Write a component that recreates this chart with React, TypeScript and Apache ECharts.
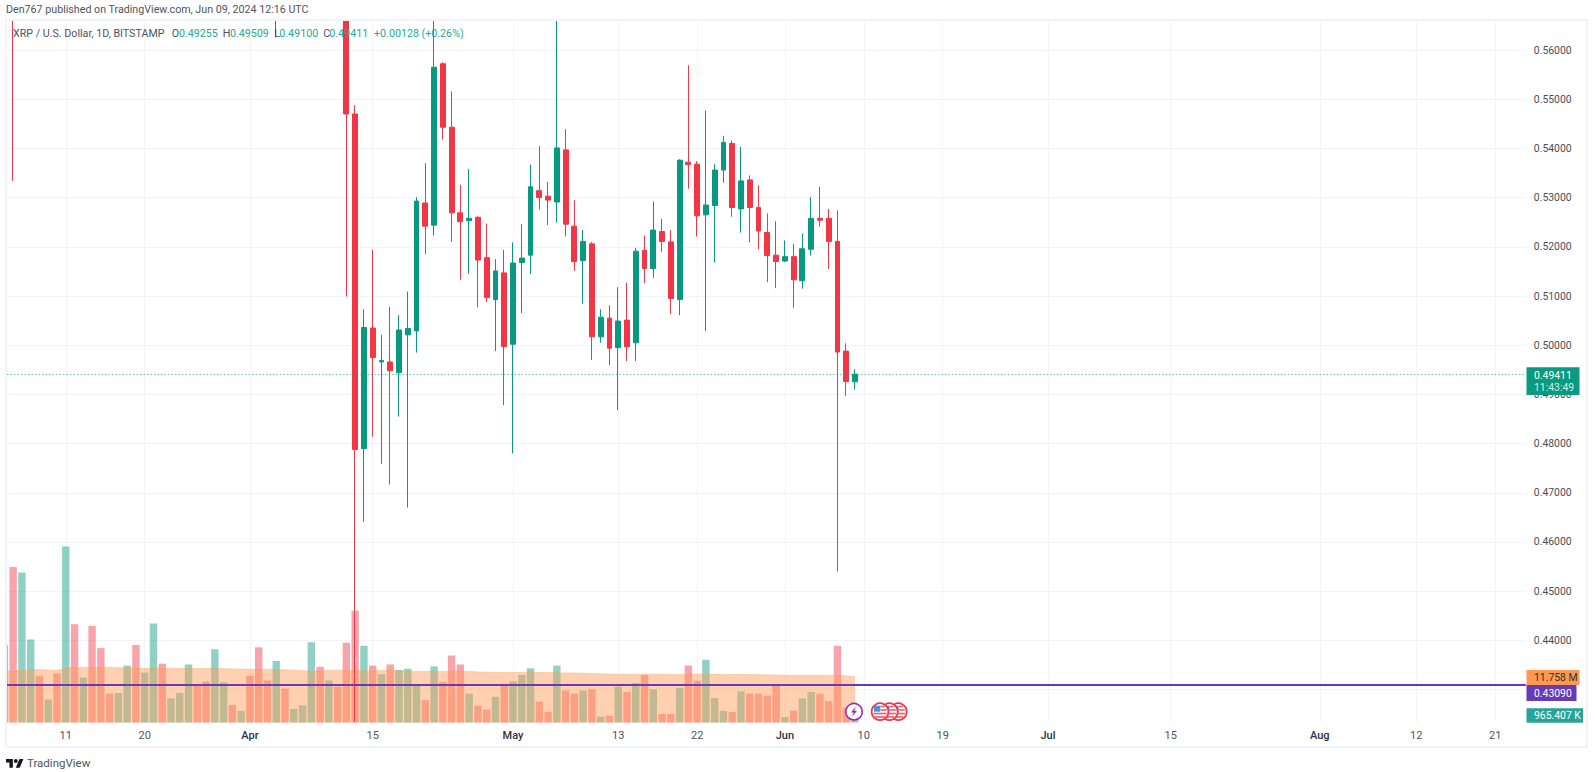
import React, { useEffect, useRef } from "react";
import * as echarts from "echarts";

const monthSpans: [string, number, number][] = [["Mar", 4, 31], ["Apr", 1, 30], ["May", 1, 31], ["Jun", 1, 30], ["Jul", 1, 31], ["Aug", 1, 24]];
const categories: string[] = [];
monthSpans.forEach(([m, a, b]) => { for (let d = a; d <= b; d++) categories.push(m + " " + d); });

const tickDates = ["Mar 11", "Mar 20", "Apr 1", "Apr 15", "May 1", "May 13", "May 22", "Jun 1", "Jun 10", "Jun 19", "Jul 1", "Jul 15", "Aug 1", "Aug 12", "Aug 21"];
const tickTexts = ["11", "20", "Apr", "15", "May", "13", "22", "Jun", "10", "19", "Jul", "15", "Aug", "12", "21"];
const priceGrid = [0.43, 0.44, 0.45, 0.46, 0.47, 0.48, 0.49, 0.5, 0.51, 0.52, 0.53, 0.54, 0.55, 0.56];
const priceLabels = [0.44, 0.45, 0.46, 0.47, 0.48, 0.49, 0.5, 0.51, 0.52, 0.53, 0.54, 0.55, 0.56];

// Mar 4 .. Jun 9; Mar 4 .. Apr 12 sit mostly above the visible range.
const opens = [
  0.629, 0.651, 0.61, 0.628, 0.648, 0.634, 0.642, 0.618, 0.702, 0.68, 0.694, 0.655, 0.612, 0.604, 0.612, 0.62, 0.592, 0.61, 0.664, 0.622,
  0.63, 0.64, 0.652, 0.644, 0.62, 0.628, 0.632, 0.626, 0.63, 0.612, 0.588, 0.58, 0.59, 0.582, 0.586, 0.59, 0.618, 0.602, 0.614,
  0.59, 0.547, 0.479, 0.5035, 0.4966, 0.4966, 0.4944, 0.5021, 0.5029, 0.5289, 0.5244, 0.5572, 0.5443, 0.5269, 0.5253, 0.526, 0.5178, 0.5093,
  0.5147, 0.5002, 0.5168, 0.5183, 0.5314, 0.5303, 0.5291, 0.5397, 0.5242, 0.5172, 0.5206, 0.5017, 0.5055, 0.4995, 0.5051, 0.5005, 0.5193, 0.5156,
  0.5231, 0.521, 0.5093, 0.5372, 0.5368, 0.5265, 0.5284, 0.5356, 0.541, 0.5277, 0.5336, 0.528, 0.5229, 0.5183, 0.5171, 0.518, 0.5131, 0.5195,
  0.5258, 0.5258, 0.5211, 0.4988, 0.49255,
];
const closes = [
  0.651, 0.61, 0.628, 0.648, 0.634, 0.642, 0.618, 0.702, 0.68, 0.694, 0.655, 0.612, 0.604, 0.612, 0.62, 0.592, 0.61, 0.664, 0.622, 0.63,
  0.64, 0.652, 0.644, 0.62, 0.628, 0.632, 0.626, 0.63, 0.612, 0.588, 0.58, 0.59, 0.582, 0.586, 0.59, 0.618, 0.602, 0.614, 0.59,
  0.547, 0.4788, 0.5036, 0.4975, 0.4969, 0.4948, 0.5031, 0.5034, 0.5293, 0.5242, 0.5565, 0.5443, 0.5269, 0.5251, 0.5258, 0.5173, 0.5097, 0.5151,
  0.4997, 0.5167, 0.5177, 0.5322, 0.53, 0.5295, 0.5401, 0.5246, 0.517, 0.5211, 0.5017, 0.5057, 0.4994, 0.5049, 0.4997, 0.5191, 0.5156, 0.5234,
  0.5211, 0.5095, 0.5376, 0.5367, 0.5263, 0.5285, 0.5356, 0.5412, 0.528, 0.5334, 0.528, 0.5232, 0.5182, 0.517, 0.518, 0.5133, 0.5196, 0.5258,
  0.5254, 0.5211, 0.4986, 0.4926, 0.49411,
];
const lows = [
  0.622, 0.5334, 0.601, 0.62, 0.626, 0.628, 0.61, 0.612, 0.672, 0.676, 0.648, 0.6, 0.598, 0.6, 0.606, 0.58, 0.586, 0.604, 0.612, 0.616,
  0.624, 0.634, 0.638, 0.612, 0.604, 0.622, 0.62, 0.62, 0.6, 0.578, 0.572, 0.5626, 0.572, 0.576, 0.58, 0.584, 0.59, 0.596, 0.582,
  0.5099, 0.4234, 0.4641, 0.4814, 0.4759, 0.4717, 0.4855, 0.467, 0.4985, 0.5185, 0.5223, 0.5418, 0.521, 0.5133, 0.5145, 0.5077, 0.5088, 0.4988,
  0.4878, 0.478, 0.5065, 0.5145, 0.5276, 0.5244, 0.5249, 0.5221, 0.5151, 0.5084, 0.497, 0.5005, 0.4959, 0.4868, 0.4968, 0.4968, 0.5126, 0.5137,
  0.5189, 0.5063, 0.5061, 0.5318, 0.5221, 0.5029, 0.5168, 0.533, 0.5261, 0.5229, 0.5209, 0.5195, 0.5128, 0.5116, 0.5169, 0.5076, 0.5115, 0.5182,
  0.5241, 0.5155, 0.454, 0.4897, 0.491,
];
const highs = [
  0.662, 0.66, 0.636, 0.656, 0.652, 0.648, 0.65, 0.72, 0.744, 0.7, 0.7, 0.664, 0.622, 0.618, 0.628, 0.632, 0.634, 0.668, 0.668, 0.636,
  0.648, 0.656, 0.658, 0.648, 0.632, 0.638, 0.636, 0.634, 0.634, 0.618, 0.596, 0.6, 0.594, 0.592, 0.596, 0.624, 0.622, 0.618, 0.62,
  0.598, 0.5488, 0.5073, 0.5194, 0.5021, 0.5078, 0.5061, 0.5109, 0.5301, 0.537, 0.572, 0.5575, 0.5516, 0.5326, 0.5358, 0.5262, 0.5247, 0.5175,
  0.5194, 0.5209, 0.5246, 0.5367, 0.5405, 0.5332, 0.572, 0.5439, 0.5295, 0.5234, 0.521, 0.5073, 0.5081, 0.5118, 0.5127, 0.5198, 0.5223, 0.5292,
  0.5257, 0.5234, 0.5378, 0.5569, 0.5374, 0.5477, 0.5368, 0.5425, 0.5416, 0.5403, 0.5345, 0.5325, 0.5268, 0.5252, 0.5213, 0.5206, 0.5227, 0.5301,
  0.5322, 0.5277, 0.5274, 0.5004, 0.49509,
];
const volumes = [
  19.9, 39.9, 38.5, 21.3, 12.0, 5.9, 12.6, 45.2, 25.2, 11.5, 24.8, 19.1, 7.4, 7.6, 14.6, 19.9, 12.8, 25.4, 15.1, 6.2,
  7.6, 14.9, 9.4, 10.5, 18.8, 10.3, 4.5, 3.0, 12.0, 19.3, 10.8, 15.8, 8.7, 3.5, 4.4, 20.6, 14.3, 10.8, 9.2,
  20.5, 28.7, 19.7, 14.6, 12.4, 14.9, 13.5, 13.8, 9.5, 5.7, 14.4, 10.4, 17.2, 14.9, 7.4, 4.3, 3.3, 6.6,
  9.6, 10.5, 12.2, 13.9, 5.3, 2.7, 14.6, 8.2, 7.4, 8.2, 8.5, 1.5, 1.7, 9.2, 7.8, 10.1, 12.2, 8.5,
  2.2, 2.2, 8.9, 14.6, 10.7, 16.1, 6.3, 3.0, 2.7, 8.0, 7.4, 7.4, 6.9, 9.5, 1.4, 3.0, 6.2, 7.8,
  7.4, 5.5, 19.7, 3.8, 0.965,
];
const volumeMA = [
  13.09, 13.22, 13.35, 13.61, 13.61, 13.48, 13.35, 13.99, 14.12, 14.12, 14.12, 14.12, 14.12, 14.04, 13.99, 13.94, 13.91, 13.86, 13.91, 13.86,
  13.86, 13.86, 13.86, 13.86, 13.84, 13.81, 13.76, 13.73, 13.68, 13.68, 13.63, 13.58, 13.53, 13.43, 13.3, 13.17, 13.25, 13.37, 13.43,
  13.4, 13.35, 13.27, 13.27, 13.32, 13.32, 13.25, 13.17, 13.12, 13.09, 13.09, 13.12, 13.17, 13.17, 13.09, 12.99, 12.91, 12.84,
  12.84, 12.84, 12.84, 12.84, 12.84, 12.81, 12.78, 12.73, 12.71, 12.66, 12.58, 12.53, 12.45, 12.4, 12.4, 12.4, 12.4, 12.4,
  12.37, 12.35, 12.35, 12.37, 12.37, 12.4, 12.37, 12.35, 12.32, 12.3, 12.3, 12.27, 12.24, 12.19, 12.14, 12.12, 12.12, 12.12,
  12.12, 12.09, 12.12, 11.96, 11.758,
];

const lastPrice = 0.49411;
const indicatorPrice = 0.4309;
const RED = "#f23645";
const GREEN = "#089981";
const FONT = "Roboto, sans-serif";
const GRAY = "#50535e";
const LEGEND_GREEN = "#22ab94";

const txt = (text: string, x: number, y: number, fill: string, size = 10.7, weight = 400, align = "left") => ({
  type: "text", x, y, z: 120,
  style: { text, fill, font: `${weight} ${size}px ${FONT}`, align, verticalAlign: "middle" },
});
const box = (x: number, y: number, width: number, height: number, fill: string, z = 110) => ({
  type: "rect", z, shape: { x, y, width, height }, style: { fill },
});

export default function App() {
  const ref = useRef<HTMLDivElement>(null);
  useEffect(() => {
    echarts.graphic.registerShape(
      "tvLogo",
      echarts.graphic.extendPath("M14 22H7V11H0V4h14v18zM28 22h-8l7.5-18h8L28 22zM16 8a4 4 0 1 0 8 0a4 4 0 1 0 -8 0z", {}) as any
    );
    const chart = echarts.init(ref.current!, undefined, { renderer: "svg" });
    const flagGroup = (cx: number, cy: number, z: number) => [
      { type: "circle", z, shape: { cx, cy, r: 8.4 }, style: { fill: "#fff", stroke: RED, lineWidth: 1.8 } },
      box(cx - 6.6, cy + 1, 13.2, 1.7, "#f5616c", z + 0.1),
      box(cx - 5, cy + 4.4, 10, 1.7, "#f5616c", z + 0.1),
      box(cx + 0.5, cy - 2.6, 6, 1.7, "#f5616c", z + 0.1),
      box(cx + 0.5, cy - 6, 4, 1.7, "#f5616c", z + 0.1),
      box(cx - 6, cy - 6, 6.3, 6, "#4a8fe8", z + 0.2),
    ];
    chart.setOption({
      animation: false,
      backgroundColor: "#ffffff",
      grid: { left: -1.88, top: 20, width: 1527.72, height: 702.5, containLabel: false },
      xAxis: {
        type: "category",
        data: categories,
        axisLine: { show: false },
        axisTick: { show: false },
        splitLine: {
          show: true,
          alignWithLabel: true,
          interval: (_: number, v: string) => tickDates.includes(v),
          lineStyle: { color: "#f2f4f9", width: 1 },
        },
        axisLabel: {
          show: true,
          interval: (_: number, v: string) => tickDates.includes(v),
          margin: 7,
          hideOverlap: false,
          formatter: (v: string) => {
            const t = tickTexts[tickDates.indexOf(v)];
            return /^[A-Z]/.test(t) ? `{b|${t}}` : `{n|${t}}`;
          },
          rich: {
            n: { color: "#50535e", fontSize: 11, fontFamily: FONT },
            b: { color: "#2e3240", fontSize: 11, fontWeight: 500, fontFamily: FONT },
          },
        },
      },
      yAxis: [
        {
          type: "value",
          position: "right",
          min: 0.42331,
          max: 0.5661,
          axisLine: { show: false },
          axisTick: { show: false, customValues: priceGrid },
          splitLine: { show: true, lineStyle: { color: "#f2f4f9", width: 1 } },
          axisLabel: {
            show: true,
            customValues: priceLabels,
            margin: 8,
            color: "#4a4e5a",
            fontSize: 10.4,
            fontFamily: FONT,
            formatter: (v: number) => v.toFixed(5),
          },
        },
        { type: "value", show: false, min: 0, max: 180.3, splitLine: { show: false } },
      ],
      series: [
        {
          name: "Volume",
          type: "bar",
          yAxisIndex: 1,
          barWidth: 7.4,
          z: 1,
          data: volumes.map((v, i) => ({
            value: v,
            itemStyle: { color: closes[i] >= opens[i] ? "rgba(8,153,129,0.45)" : "rgba(242,54,69,0.45)" },
          })),
        },
        {
          name: "Volume MA",
          type: "line",
          yAxisIndex: 1,
          z: 2,
          showSymbol: false,
          data: volumeMA,
          lineStyle: { color: "rgba(255,152,80,0.35)", width: 1 },
          areaStyle: { color: "rgba(255,152,80,0.45)", opacity: 1 },
        },
        {
          name: "XRP",
          type: "candlestick",
          z: 3,
          barWidth: 5.4,
          itemStyle: { color: GREEN, color0: RED, borderColor: GREEN, borderColor0: RED, borderWidth: 1 },
          data: opens.map((o, i) => [o, closes[i], lows[i], highs[i]]),
          markLine: {
            silent: true,
            symbol: "none",
            precision: 5,
            label: { show: false },
            animation: false,
            data: [
              { yAxis: lastPrice, lineStyle: { color: "rgba(8,153,129,0.6)", type: [1.5, 2], width: 1 } },
              { yAxis: indicatorPrice, lineStyle: { color: "#673ab7", type: "solid", width: 2 } },
            ],
          },
        },
      ],
      graphic: [
        box(0, 0, 1595, 19, "#ffffff", 100),
        box(0, 18, 5.5, 732, "#ffffff", 100),
        { type: "rect", z: 101, shape: { x: 6, y: 20, width: 1581, height: 727 }, style: { fill: "none", stroke: "#f0f3fa", lineWidth: 2 } },
        box(1526.5, 367.3, 53, 27.7, "#0a9a80"),
        txt("0.49411", 1534, 375.5, "#ffffff", 10.4),
        txt("11:43:49", 1534, 387.8, "#cfeee8", 10.4),
        box(1526.5, 670, 53, 15, "#ff9850"),
        txt("11.758 M", 1534, 677.5, "#33302c", 10.4),
        box(1526.5, 685, 50, 16, "#673ab7"),
        txt("0.43090", 1534, 693, "#ffffff", 10.4),
        box(1526.5, 708.3, 56.5, 14.4, "#26a69a"),
        txt("965.407 K", 1534, 715.5, "#ffffff", 10.4),
        txt("Den767 published on TradingView.com, Jun 09, 2024 12:16 UTC", 6, 9.5, GRAY),
        txt("XRP / U.S. Dollar, 1D, BITSTAMP", 13, 33, GRAY),
        txt("O", 171.7, 33, GRAY),
        txt("0.49255", 179, 33, LEGEND_GREEN),
        txt("H", 222.7, 33, GRAY),
        txt("0.49509", 230, 33, LEGEND_GREEN),
        txt("L", 274.3, 33, GRAY),
        txt("0.49100", 279.3, 33, LEGEND_GREEN),
        txt("C", 323.3, 33, GRAY),
        txt("0.49411", 329.3, 33, LEGEND_GREEN),
        txt("+0.00128 (+0.26%)", 374, 33, LEGEND_GREEN),
        { type: "tvLogo", x: 6, y: 757, scaleX: 0.49, scaleY: 0.49, z: 120, style: { fill: "#131722" } },
        txt("TradingView", 27, 763, GRAY, 11.5),
        { type: "circle", z: 105, shape: { cx: 854, cy: 711.7, r: 8.2 }, style: { fill: "#fff", stroke: "#9c27b0", lineWidth: 1.6 } },
        {
          type: "polygon", z: 106,
          shape: { points: [[856, 706.5], [851, 712.5], [853.8, 712.5], [852, 717], [857, 710.8], [854.2, 710.8]] },
          style: { fill: "#9c27b0" },
        },
        ...flagGroup(898.3, 711.7, 105),
        ...flagGroup(889.3, 711.7, 106),
        ...flagGroup(880, 711.7, 107),
      ],
    });
    return () => chart.dispose();
  }, []);
  return <div ref={ref} style={{ position: "absolute", left: 0, top: 0, width: 1595, height: 772 }} />;
}
